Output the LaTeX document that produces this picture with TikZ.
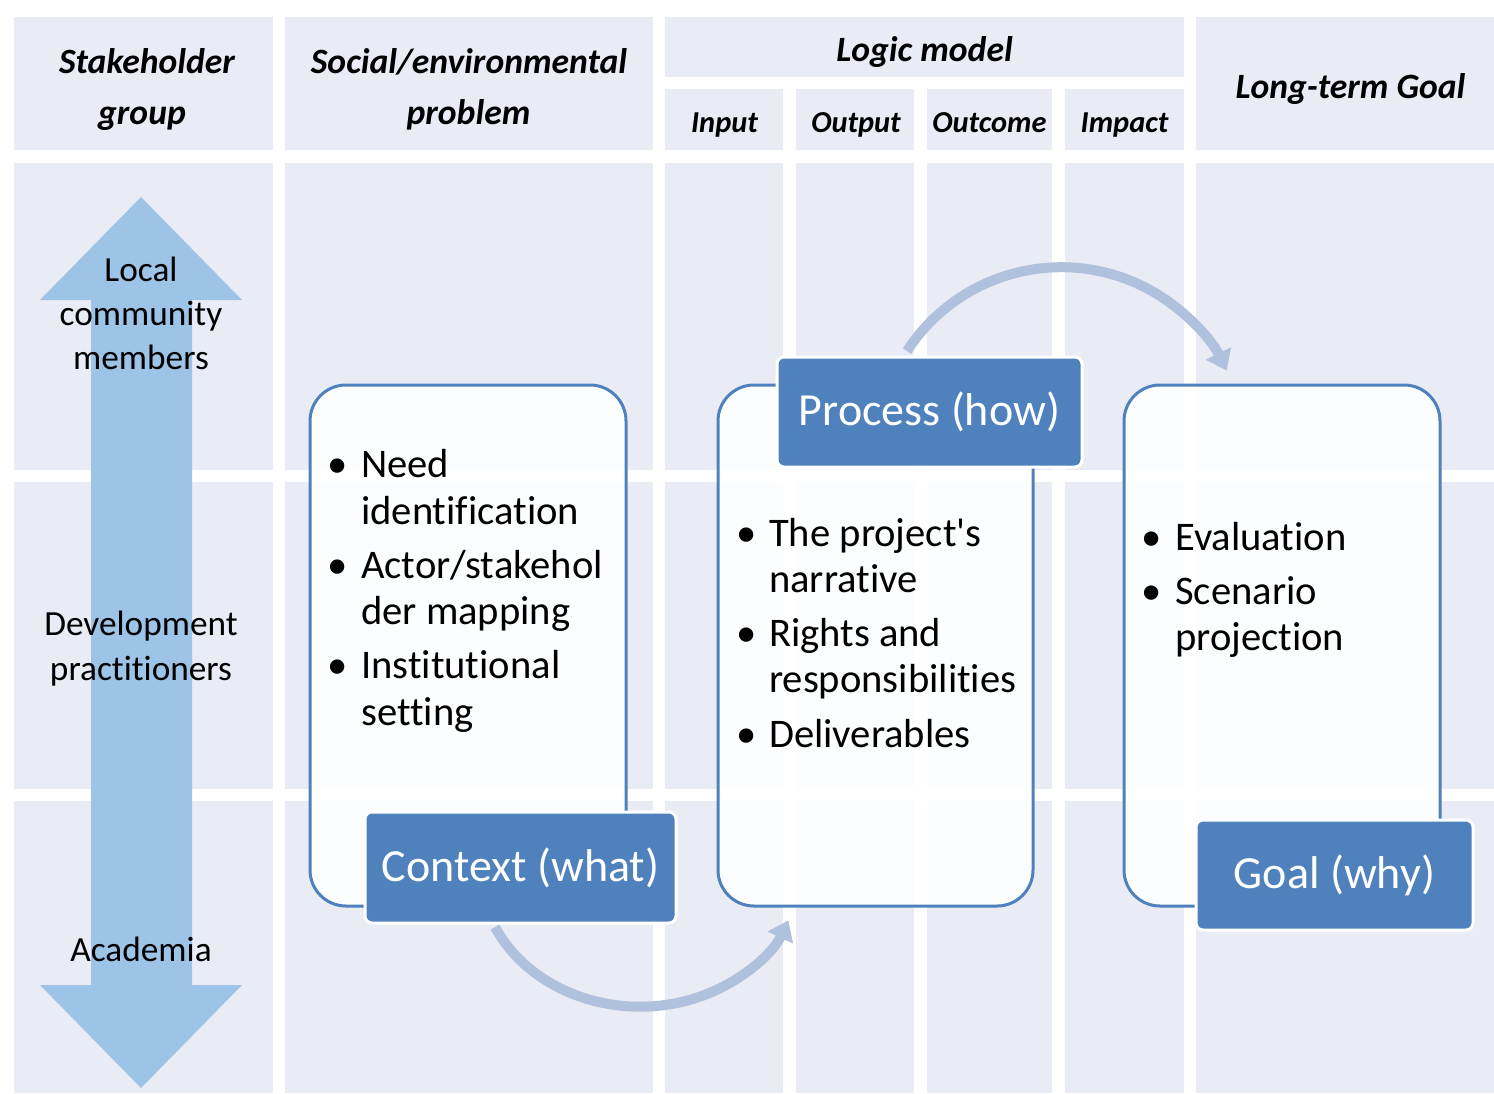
\documentclass[tikz,border=0pt]{standalone}
\usepackage{fontspec}
\setmainfont{Carlito}[Ligatures={NoCommon,TeXOff}]
\usetikzlibrary{arrows.meta,calc}
\definecolor{cellbg}{HTML}{E9EBF5}
\definecolor{accent}{HTML}{4F81BD}
\definecolor{bigarrow}{HTML}{9DC3E6}
\definecolor{flow}{HTML}{B0C1DD}
\begin{document}
\begin{tikzpicture}[x=1pt,y=-1pt,
  txt/.style={inner sep=0pt,anchor=base},
  ltxt/.style={inner sep=0pt,anchor=base west},
  head/.style={txt,font=\fontsize{35.6}{42}\selectfont\bfseries\itshape},
  subhead/.style={txt,font=\fontsize{30.4}{36}\selectfont\bfseries\itshape},
  side/.style={txt,font=\fontsize{35.3}{42}\selectfont},
  item/.style={ltxt,font=\fontsize{40.6}{48}\selectfont},
  bul/.style={ltxt,font=\fontsize{40.6}{48}\selectfont},
  panel/.style={draw=accent,line width=3pt,fill=white,fill opacity=0.9,
    rounded corners=36pt,inner sep=0pt},
  tag/.style={draw=white,line width=3pt,fill=accent,rounded corners=7pt,
    text=white,font=\fontsize{46}{54}\selectfont,inner sep=0pt},
  flowarrow/.style={draw=flow,line width=10pt,
    -{Triangle[width=27pt,length=19pt]}}]
\useasboundingbox (0,0) rectangle (1494,1093);
\fill[white] (0,0) rectangle (1494,1093);

% table header cells
\fill[cellbg] (14,17) rectangle (273,150);
\fill[cellbg] (285,17) rectangle (653,150);
\fill[cellbg] (665,17) rectangle (1184,77);
\fill[cellbg] (665,89) rectangle (783,150);
\fill[cellbg] (796,89) rectangle (914,150);
\fill[cellbg] (927,89) rectangle (1052,150);
\fill[cellbg] (1065,89) rectangle (1184,150);
\fill[cellbg] (1196,17) rectangle (1494,150);

% table body cells
\foreach \xa/\xb in {14/273,285/653,665/783,796/914,927/1052,1065/1184,1196/1494}
  \foreach \ya/\yb in {163/470,482/789,801/1093}
    \fill[cellbg] (\xa,\ya) rectangle (\xb,\yb);

% header texts
\node[head] (h1a) at (147,73) {Stakeholder};
\node[head] (h1b) at (142,124) {group};
\node[head] (h2a) at (469,73) {Social/environmental};
\node[head] (h2b) at (468.5,124) {problem};
\node[head] (h3) at (924.5,61) {Logic model};
\node[subhead] (h3a) at (724.5,132) {Input};
\node[subhead] (h3b) at (856,132) {Output};
\node[subhead] (h3c) at (989.5,132) {Outcome};
\node[subhead] (h3d) at (1124.5,132) {Impact};
\node[head] (h4) at (1350.5,98) {Long-term Goal};

% stakeholder double arrow
\fill[bigarrow] (141,197) -- (242,300) -- (192,300) -- (192,985) -- (242,985)
  -- (141,1088) -- (40,985) -- (91,985) -- (91,300) -- (40,300) -- cycle;
\node[side] (s1a) at (141,281) {Local};
\node[side] (s1b) at (141,325) {community};
\node[side] (s1c) at (141,369) {members};
\node[side] (s2a) at (141,635) {Development};
\node[side] (s2b) at (141,680) {practitioners};
\node[side] (s3) at (141,961) {Academia};

% panels
\node[panel,minimum width=316pt,minimum height=521pt] (ctxbox) at (468,645.5) {};
\node[panel,minimum width=315pt,minimum height=521pt] (procbox) at (875.5,645.5) {};
\node[panel,minimum width=316pt,minimum height=521pt] (goalbox) at (1282,645.5) {};

% curved flow arrows, starting beneath the headline tags
\coordinate (ctxbottom) at (520.5,923);
\coordinate (proctop) at (929.5,357);
\draw[flowarrow] ($(ctxbottom)+(-25.5,4)$)
  arc[start angle=155,end angle=22,x radius=160,y radius=138];
\draw[flowarrow] ($(proctop)+(-22.5,-6)$)
  arc[start angle=-147,end angle=-26,radius=184];

% headline tags
\node[tag,minimum width=311pt,minimum height=111pt] (ctx) at (520.5,867.5) {Context (what)};
\node[tag,minimum width=305pt,minimum height=110pt] (proc) at (929.5,412) {Process (how)};
\node[tag,minimum width=277pt,minimum height=110pt] (goal) at (1334.5,875) {Goal (why)};

% context bullets
\node[bul] (b1) at (327,477) {\textbullet};
\node[item] (t1a) at (361,477) {Need};
\node[item] (t1b) at (361,524) {identification};
\node[bul] (b2) at (327,578) {\textbullet};
\node[item] (t2a) at (361,578) {Actor/stakehol};
\node[item] (t2b) at (361,624) {der mapping};
\node[bul] (b3) at (327,678) {\textbullet};
\node[item] (t3a) at (361,678) {Institutional};
\node[item] (t3b) at (361,725) {setting};

% process bullets
\node[bul] (b4) at (736,546) {\textbullet};
\node[item] (t4a) at (769,546) {The project's};
\node[item] (t4b) at (769,592) {narrative};
\node[bul] (b5) at (736,646) {\textbullet};
\node[item] (t5a) at (769,646) {Rights and};
\node[item] (t5b) at (769,692) {responsibilities};
\node[bul] (b6) at (736,747) {\textbullet};
\node[item] (t6a) at (769,747) {Deliverables};

% goal bullets
\node[bul] (b7) at (1141,550) {\textbullet};
\node[item] (t7a) at (1175,550) {Evaluation};
\node[bul] (b8) at (1141,604) {\textbullet};
\node[item] (t8a) at (1175,604) {Scenario};
\node[item] (t8b) at (1175,650) {projection};
\end{tikzpicture}
\end{document}
